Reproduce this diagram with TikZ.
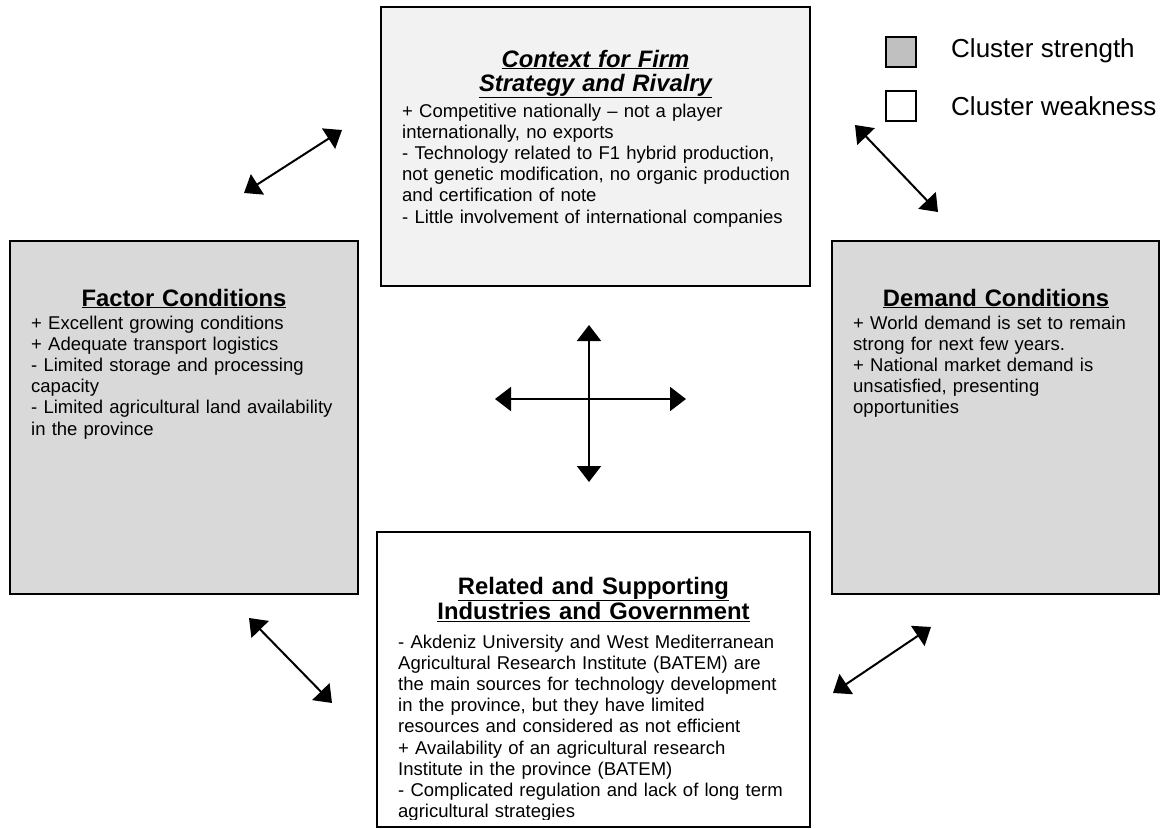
\documentclass[tikz,border=0pt]{standalone}
\usepackage{fontspec}
\setmainfont{Liberation Sans}
\usetikzlibrary{arrows.meta}
\definecolor{strongfill}{HTML}{D9D9D9}
\definecolor{keyfill}{HTML}{C0C0C0}
\definecolor{ctxfill}{HTML}{F2F2F2}
\begin{document}
\begin{tikzpicture}[x=1pt,y=-1pt]
\tikzset{
  panel/.style={draw=black, line width=1.8pt, inner sep=0pt},
  keybox/.style={draw=black, line width=1.6pt, inner sep=0pt, minimum width=30pt, minimum height=30pt},
  body/.style={anchor=base west, inner sep=0pt, text width=460pt, align=left,
               font=\fontsize{18.5}{21.2}\selectfont},
  heading/.style={anchor=base, inner sep=0pt, text width=440pt, align=center,
               font=\fontsize{23.8}{24}\selectfont\bfseries},
  keytext/.style={anchor=base west, inner sep=0pt, font=\fontsize{26}{30}\selectfont},
  link/.style={line width=2pt, {Triangle[length=16pt,width=24pt]}-{Triangle[length=16pt,width=24pt]}}
}
\useasboundingbox (0,0) rectangle (1168,828);
\fill[white] (0,0) rectangle (1168,828);

% the four panels
\node[panel, fill=ctxfill, minimum width=429pt, minimum height=279pt] (ctx) at (595.5,146.5) {};
\node[panel, fill=strongfill, minimum width=348pt, minimum height=353pt] (factor) at (184,417.5) {};
\node[panel, fill=strongfill, minimum width=327pt, minimum height=353pt] (demand) at (995.5,417.5) {};
\node[panel, fill=white, minimum width=433pt, minimum height=295pt] (related) at (593.5,679.5) {};

% context panel text
\node[heading, font=\fontsize{23.8}{24}\selectfont\bfseries\itshape] (ctx-title) at (595.5,67)
  {\underline{Context for Firm}\\\underline{Strategy and Rivalry}};
\node[body] (ctx-text) at (402,117)
  {+ Competitive nationally \textendash{} not a player\\
   internationally, no exports\\
   - Technology related to F1 hybrid production,\\
   not genetic modification, no organic production\\
   and certification of note\\
   - Little involvement of international companies};

% factor panel text
\node[heading] (factor-title) at (184,306) {\underline{Factor Conditions}};
\node[body] (factor-text) at (31,329)
  {+ Excellent growing conditions\\
   + Adequate transport logistics\\
   - Limited storage and processing\\
   capacity\\
   - Limited agricultural land availability\\
   in the province};

% demand panel text
\node[heading] (demand-title) at (996,306) {\underline{Demand Conditions}};
\node[body] (demand-text) at (853,329)
  {+ World demand is set to remain\\
   strong for next few years.\\
   + National market demand is\\
   unsatisfied, presenting\\
   opportunities};

% related panel text, cut off by the panel's lower edge
\begin{scope}
  \clip (378,533) rectangle (809,819);
  \node[heading] (related-title) at (593.5,594)
    {\underline{Related and Supporting}\\\underline{Industries and Government}};
  \node[body] (related-text) at (398,648)
    {- Akdeniz University and West Mediterranean\\
     Agricultural Research Institute (BATEM) are\\
     the main sources for technology development\\
     in the province, but they have limited\\
     resources and considered as not efficient\\
     + Availability of an agricultural research\\
     Institute in the province (BATEM)\\
     - Complicated regulation and lack of long term\\
     agricultural strategies};
\end{scope}

% legend
\node[keybox, fill=keyfill] (key-strong) at (901,52) {};
\node[keybox, fill=white] (key-weak) at (901,106) {};
\node[keytext] (key-strong-label) at (951,57) {Cluster strength};
\node[keytext] (key-weak-label) at (951,115) {Cluster weakness};

% central cross
\coordinate (crossN) at (589,325);
\coordinate (crossS) at (589,482);
\coordinate (crossW) at (495,399);
\coordinate (crossE) at (686,399);
\draw[link] (crossN) -- (crossS);
\draw[link] (crossW) -- (crossE);

% diagonal links between the panels
\coordinate (tlA) at (244,193);
\coordinate (tlB) at (342,130);
\coordinate (trA) at (855,125);
\coordinate (trB) at (938,212);
\coordinate (blA) at (249,618);
\coordinate (blB) at (332,703);
\coordinate (brA) at (833,693);
\coordinate (brB) at (931,627);
\draw[link] (tlA) -- (tlB);
\draw[link] (trA) -- (trB);
\draw[link] (blA) -- (blB);
\draw[link] (brA) -- (brB);
\end{tikzpicture}
\end{document}
